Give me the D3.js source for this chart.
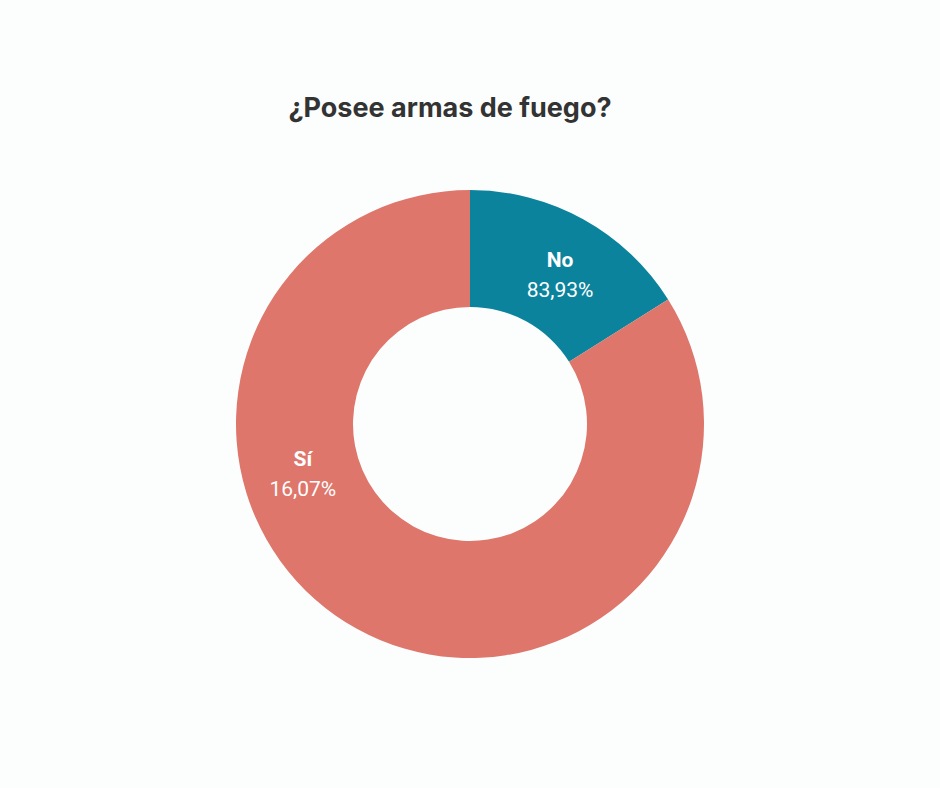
<!DOCTYPE html>
<html><head><meta charset="utf-8">
<script src="https://cdn.jsdelivr.net/npm/d3@7"></script>
<style>
html,body{margin:0;padding:0;background:#fcfefe;}
svg{display:block;}
</style></head>
<body>
<script>
const title = "¿Posee armas de fuego?";
const categories = ["No", "Sí"];
const sliceValues = [16.07, 83.93];
const labelTexts = ["83,93%", "16,07%"];
const colors = ["#0c839d", "#de766b"];

const W = 940, H = 788;
const cx = 470, cy = 424, R = 234, r0 = 117;
const svg = d3.select("body").append("svg").attr("width", W).attr("height", H);
svg.append("rect").attr("width", W).attr("height", H).attr("fill", "#fcfefe");

svg.append("text").attr("x", 450).attr("y", 117).attr("text-anchor", "middle")
  .attr("font-family", "Inter, 'Open Sans', sans-serif").attr("font-weight", 700)
  .attr("font-size", 27).attr("fill", "#333333").text(title);

const data = categories.map((c, i) => ({cat: c, value: sliceValues[i], label: labelTexts[i], color: colors[i]}));
const pie = d3.pie().value(d => d.value).sort(null);
const arcs = pie(data);
const arc = d3.arc().innerRadius(r0).outerRadius(R);
const g = svg.append("g").attr("transform", `translate(${cx},${cy})`);
g.selectAll("path").data(arcs).enter().append("path")
  .attr("d", arc).attr("fill", d => d.data.color);

// label anchor angles (degrees clockwise from top) and radii
const labelAngles = [32, 251.8];
const labelRadii = [170, 176];
arcs.forEach((a, i) => {
  const ang = labelAngles[i] * Math.PI / 180;
  const x = labelRadii[i] * Math.sin(ang), y = -labelRadii[i] * Math.cos(ang);
  const t = g.append("g").attr("transform", `translate(${x},${y})`);
  t.append("text").attr("text-anchor", "middle").attr("y", -13)
    .attr("font-family", "Roboto, sans-serif").attr("font-weight", 700)
    .attr("font-size", 21).attr("fill", "#ffffff").text(a.data.cat);
  t.append("text").attr("text-anchor", "middle").attr("y", 17)
    .attr("font-family", "Roboto, sans-serif").attr("font-weight", 400)
    .attr("font-size", 21).attr("fill", "#ffffff").text(a.data.label);
});
</script>
</body></html>
